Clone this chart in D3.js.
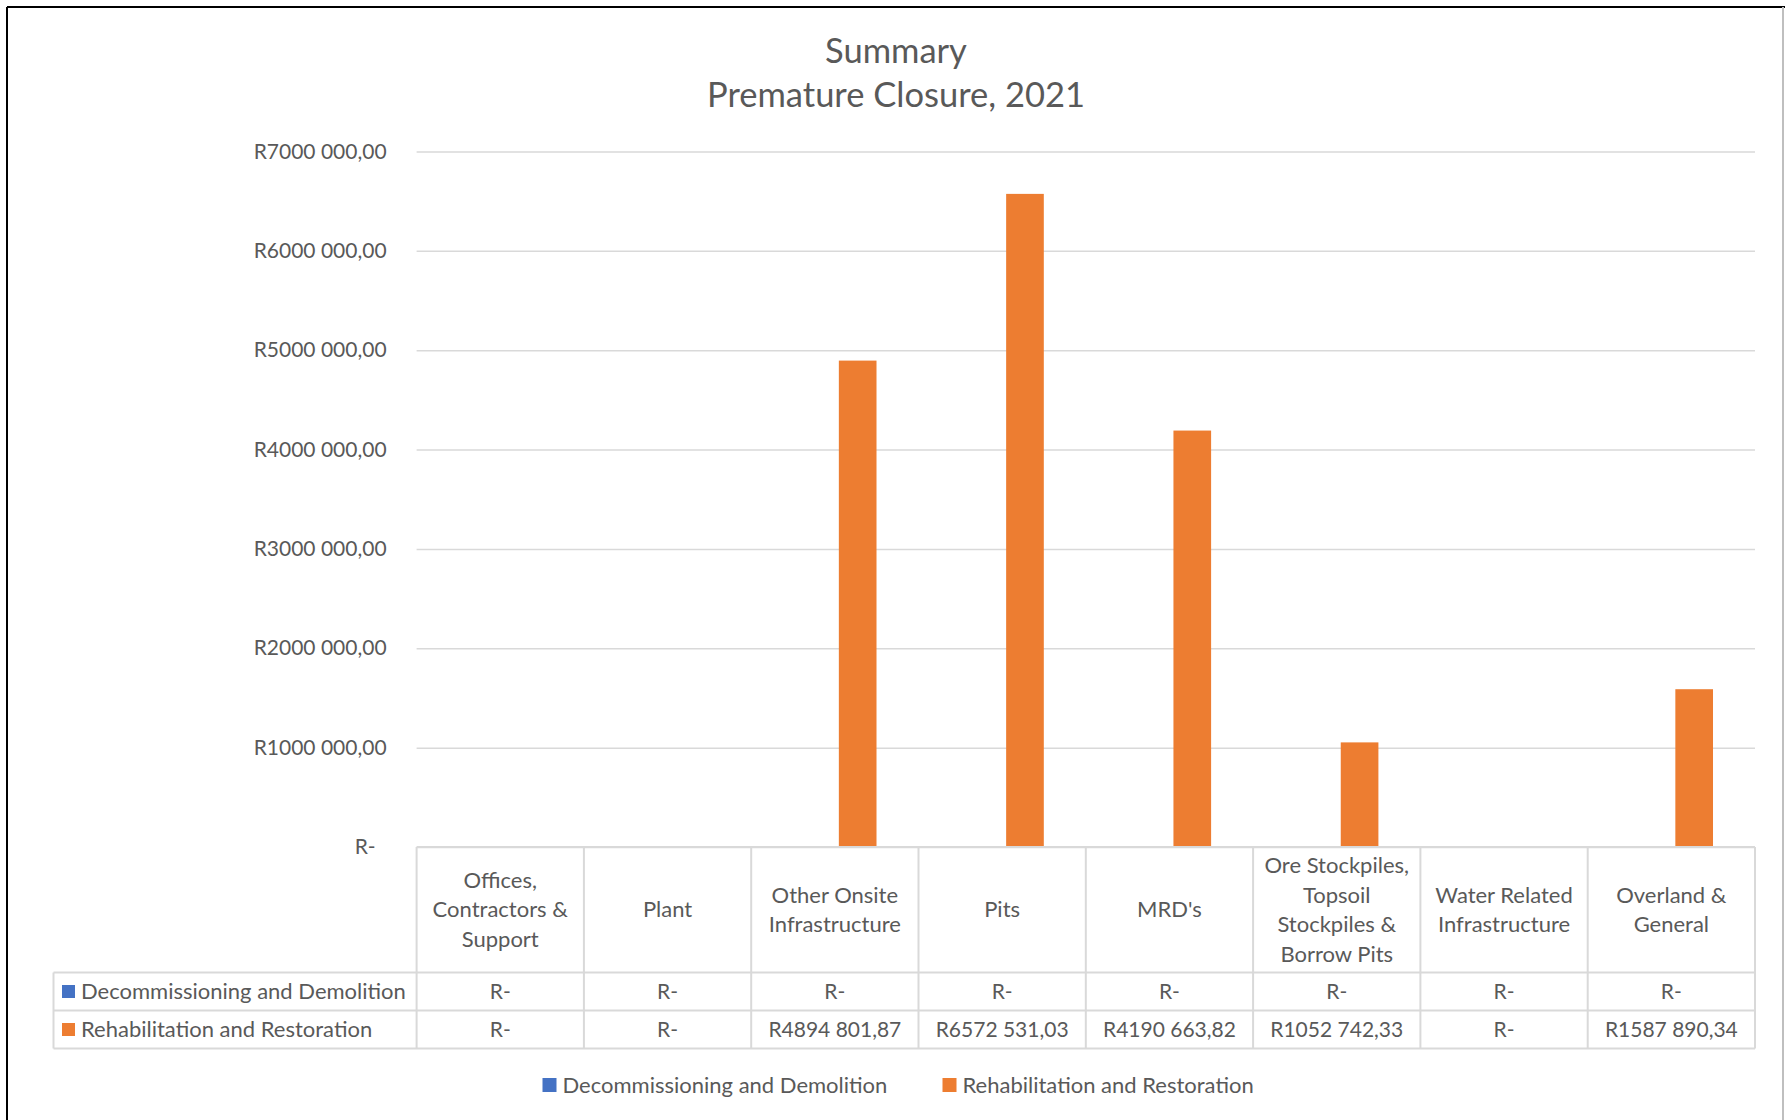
<!DOCTYPE html>
<html>
<head>
<meta charset="utf-8">
<script src="https://cdn.jsdelivr.net/npm/d3@7"></script>
<style>
  body { margin: 0; background: #fff; }
  text { font-family: Lato, "Open Sans", sans-serif; fill: #595959; }
</style>
</head>
<body>
<div id="chart"></div>
<script>
// chart data
const categories = [
  "Offices,\nContractors &\nSupport",
  "Plant",
  "Other Onsite\nInfrastructure",
  "Pits",
  "MRD's",
  "Ore Stockpiles,\nTopsoil\nStockpiles &\nBorrow Pits",
  "Water Related\nInfrastructure",
  "Overland &\nGeneral"
];
const seriesNames = ["Decommissioning and Demolition", "Rehabilitation and Restoration"];
const seriesColors = ["#4472C4", "#ED7D31"];
const decommissioning = [0, 0, 0, 0, 0, 0, 0, 0];
const rehabilitation = [0, 0, 4894801.87, 6572531.03, 4190663.82, 1052742.33, 0, 1587890.34];
const yTicks = [0, 1000000, 2000000, 3000000, 4000000, 5000000, 6000000, 7000000];
const titleLines = ["Summary", "Premature Closure, 2021"];

const W = 1785, H = 1120;
const plot = {left: 416.6, right: 1755, top: 151.4, bottom: 847};
const table = {left: 53.5, headBottom: 972.5, rowH: 38};

const loc = d3.formatLocale({decimal: ",", thousands: " ", grouping: [3, 12], currency: ["R", ""]});
const money = loc.format("$,.2f");
const fmt = d => d === 0 ? "R-" : money(d);

const svg = d3.select("#chart").append("svg")
  .attr("width", W).attr("height", H);

// outer frame
svg.append("line").attr("x1", 7).attr("x2", W).attr("y1", 7).attr("y2", 7)
  .attr("stroke", "#000").attr("stroke-width", 2);
svg.append("line").attr("x1", 7).attr("x2", 7).attr("y1", 7).attr("y2", H)
  .attr("stroke", "#000").attr("stroke-width", 2);
svg.append("line").attr("x1", 1783).attr("x2", 1783).attr("y1", 7).attr("y2", H)
  .attr("stroke", "#bfbfbf").attr("stroke-width", 2);

// title
svg.append("g").selectAll("text")
  .data(titleLines).enter()
  .append("text")
  .attr("x", 896)
  .attr("y", (d, i) => 63 + i * 44)
  .attr("text-anchor", "middle")
  .style("font-size", "34.5px")
  .text(d => d);

const x0 = d3.scaleBand()
  .domain(categories)
  .range([plot.left, plot.right]);

const x1 = d3.scaleBand()
  .domain(seriesNames)
  .range([0, x0.bandwidth()])
  .paddingInner(0.175)
  .paddingOuter(0.92);

const y = d3.scaleLinear()
  .domain([0, 7000000])
  .range([plot.bottom, plot.top]);

// y axis + gridlines
const yAxis = svg.append("g")
  .attr("transform", "translate(" + plot.left + ",0)")
  .call(d3.axisLeft(y)
    .tickValues(yTicks)
    .tickSizeInner(-(plot.right - plot.left))
    .tickSizeOuter(0)
    .tickPadding(30)
    .tickFormat(fmt));
yAxis.select(".domain").remove();
yAxis.selectAll(".tick line").attr("stroke", "#d9d9d9").attr("stroke-width", 1.5);
yAxis.selectAll(".tick text")
  .style("font-size", "21px")
  .style("font-family", "Lato, sans-serif")
  .attr("fill", "#595959")
  .attr("dx", d => d === 0 ? -11 : 0);

// bars
const data = categories.map((c, i) => ({cat: c, values: [decommissioning[i], rehabilitation[i]]}));
svg.append("g").selectAll("g")
  .data(data).enter()
  .append("g")
  .attr("transform", d => "translate(" + x0(d.cat) + ",0)")
  .selectAll("rect")
  .data(d => d.values.map((v, k) => ({name: seriesNames[k], v: v, k: k})))
  .enter()
  .append("rect")
  .attr("x", d => x1(d.name))
  .attr("y", d => y(d.v))
  .attr("width", x1.bandwidth())
  .attr("height", d => y(0) - y(d.v))
  .attr("fill", d => seriesColors[d.k]);

// data table
const grid = svg.append("g").attr("stroke", "#d9d9d9").attr("stroke-width", 2);
const tBottom = table.headBottom + table.rowH * seriesNames.length;
grid.append("line").attr("x1", plot.left).attr("x2", plot.right).attr("y1", plot.bottom).attr("y2", plot.bottom);
[0, 1, 2].forEach(r => {
  const yy = table.headBottom + r * table.rowH;
  grid.append("line").attr("x1", table.left).attr("x2", plot.right).attr("y1", yy).attr("y2", yy);
});
grid.append("line").attr("x1", table.left).attr("x2", table.left).attr("y1", table.headBottom).attr("y2", tBottom);
grid.selectAll(".vline")
  .data(categories.concat(["end"])).enter()
  .append("line")
  .attr("x1", d => d === "end" ? plot.right : x0(d))
  .attr("x2", d => d === "end" ? plot.right : x0(d))
  .attr("y1", plot.bottom).attr("y2", tBottom);

// header labels
const head = svg.append("g").selectAll("text")
  .data(categories).enter()
  .append("text")
  .attr("text-anchor", "middle")
  .style("font-size", "22px");
head.each(function(d) {
  const lines = d.split("\n");
  const cy = (plot.bottom + table.headBottom) / 2;
  const lh = 29.5;
  d3.select(this).selectAll("tspan")
    .data(lines).enter()
    .append("tspan")
    .attr("x", x0(d) + x0.bandwidth() / 2)
    .attr("y", (l, i) => cy + (i - (lines.length - 1) / 2) * lh)
    .attr("dy", "0.35em")
    .text(l => l);
});

// row labels and values
const rows = [decommissioning, rehabilitation];
rows.forEach((vals, r) => {
  const cy = table.headBottom + (r + 0.5) * table.rowH;
  svg.append("rect")
    .attr("x", 62).attr("y", cy - 6.5)
    .attr("width", 13).attr("height", 13)
    .attr("fill", seriesColors[r]);
  svg.append("text")
    .attr("x", 81).attr("y", cy).attr("dy", "0.35em")
    .style("font-size", "22px")
    .text(seriesNames[r]);
  svg.append("g").selectAll("text")
    .data(vals).enter()
    .append("text")
    .attr("x", (v, i) => x0(categories[i]) + x0.bandwidth() / 2)
    .attr("y", cy).attr("dy", "0.35em")
    .attr("text-anchor", "middle")
    .style("font-size", "21px")
    .text(v => fmt(v));
});

// legend
const legendX = [542.5, 942.5];
const legend = svg.append("g").selectAll("g")
  .data(seriesNames).enter()
  .append("g")
  .attr("transform", (d, i) => "translate(" + legendX[i] + ",1085)");
legend.append("rect")
  .attr("x", 0).attr("y", -7).attr("width", 14).attr("height", 14)
  .attr("fill", (d, i) => seriesColors[i]);
legend.append("text")
  .attr("x", 20).attr("dy", "0.35em")
  .style("font-size", "22px")
  .text(d => d);
</script>
</body>
</html>
